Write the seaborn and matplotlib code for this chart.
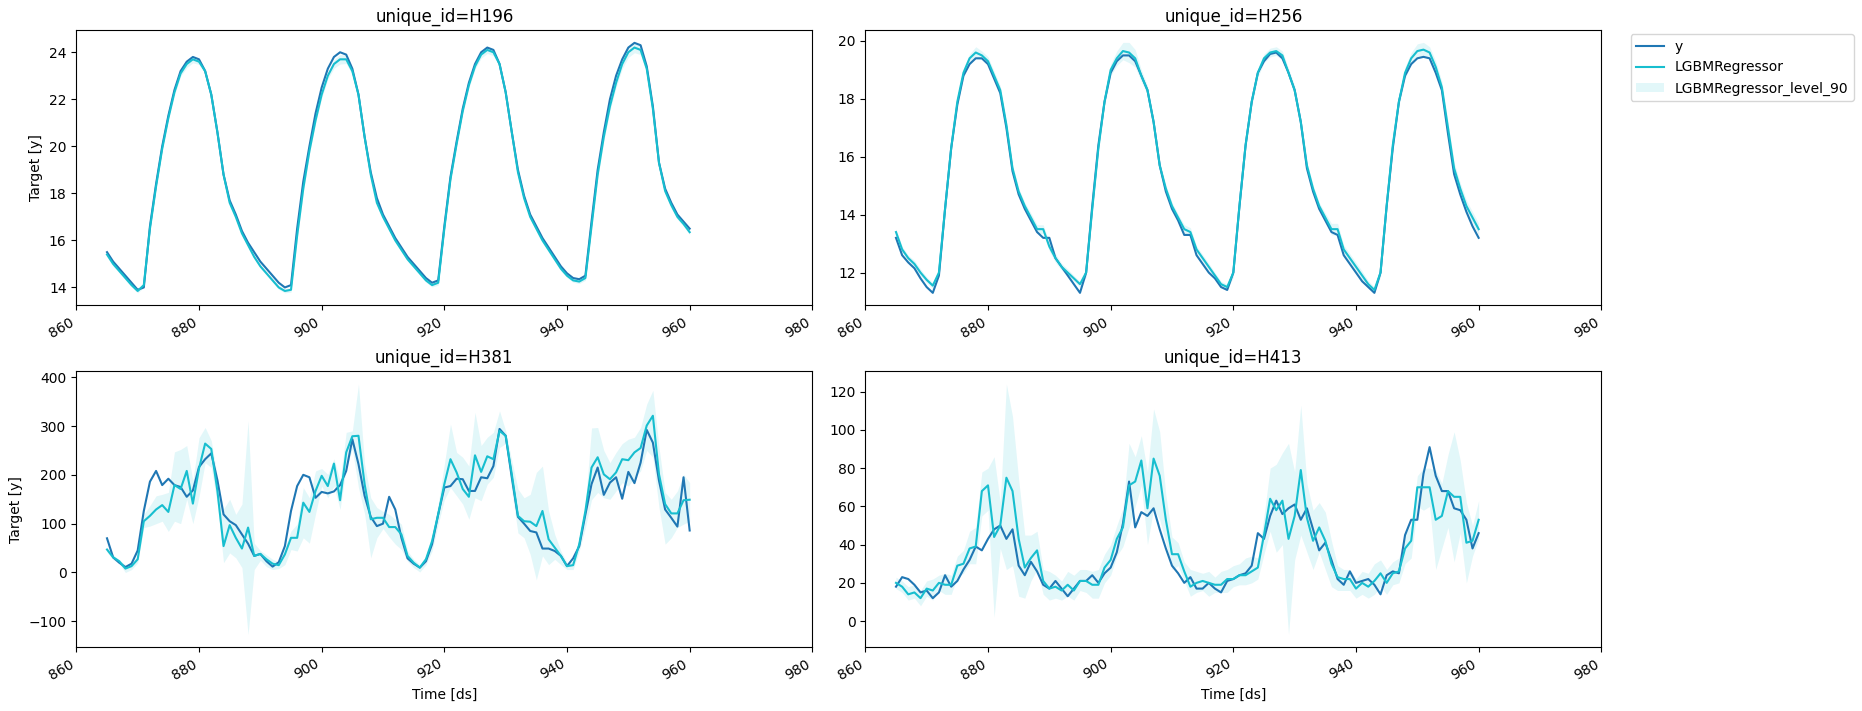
import pandas as pd
import matplotlib.pyplot as plt
import seaborn as sns
from matplotlib.patches import Patch

ds = list(range(865, 961))

# H196
h196_y = [15.5, 15.1, 14.8, 14.5, 14.2, 13.9,
          14.0, 16.6, 18.4, 20.0, 21.3, 22.4, 23.2, 23.6, 23.8, 23.7, 23.2, 22.2, 20.6, 18.8, 17.7, 17.1, 16.4, 15.9, 15.5, 15.1, 14.8, 14.5, 14.2, 14.0,
          14.1, 16.5, 18.5, 20.0, 21.4, 22.5, 23.3, 23.8, 24.0, 23.9, 23.3, 22.2, 20.4, 18.9, 17.8, 17.1, 16.6, 16.1, 15.7, 15.3, 15.0, 14.7, 14.4, 14.2,
          14.3, 16.6, 18.7, 20.2, 21.6, 22.7, 23.5, 24.0, 24.2, 24.1, 23.5, 22.3, 20.6, 19.0, 17.9, 17.1, 16.6, 16.1, 15.7, 15.3, 14.9, 14.6, 14.4, 14.35,
          14.5, 16.8, 19.0, 20.6, 22.0, 23.0, 23.7, 24.2, 24.4, 24.3, 23.4, 21.7, 19.3, 18.2, 17.6, 17.1, 16.8, 16.5]
h196_pred = [15.4, 15.0, 14.7, 14.4, 14.1, 13.85,
             14.1, 16.5, 18.3, 19.9, 21.2, 22.3, 23.1, 23.5, 23.7, 23.6, 23.2, 22.2, 20.6, 18.8, 17.6, 17.0, 16.3, 15.8, 15.3, 14.9, 14.6, 14.3, 14.0, 13.85,
             13.9, 16.2, 18.2, 19.8, 21.1, 22.2, 23.0, 23.5, 23.7, 23.7, 23.2, 22.2, 20.4, 18.8, 17.6, 17.0, 16.5, 16.0, 15.6, 15.2, 14.9, 14.6, 14.3, 14.1,
             14.2, 16.5, 18.6, 20.1, 21.5, 22.6, 23.4, 23.9, 24.1, 24.0, 23.5, 22.3, 20.6, 18.9, 17.8, 17.0, 16.5, 16.0, 15.6, 15.2, 14.8, 14.5, 14.3, 14.25,
             14.4, 16.6, 18.8, 20.4, 21.7, 22.7, 23.5, 24.0, 24.2, 24.1, 23.3, 21.6, 19.3, 18.1, 17.5, 17.0, 16.7, 16.35]
h196_width = [0.10, 0.10, 0.08, 0.08, 0.08, 0.08,
              0.10, 0.12, 0.12, 0.10, 0.10, 0.12, 0.12, 0.15, 0.15, 0.12, 0.12, 0.10, 0.10, 0.12, 0.10, 0.10, 0.10, 0.08, 0.08, 0.08, 0.08, 0.08, 0.08, 0.08,
              0.10, 0.15, 0.15, 0.12, 0.12, 0.15, 0.15, 0.18, 0.20, 0.18, 0.15, 0.12, 0.12, 0.12, 0.10, 0.10, 0.10, 0.10, 0.08, 0.08, 0.08, 0.08, 0.08, 0.08,
              0.10, 0.12, 0.12, 0.12, 0.12, 0.12, 0.12, 0.15, 0.15, 0.15, 0.12, 0.12, 0.12, 0.12, 0.10, 0.10, 0.10, 0.10, 0.10, 0.10, 0.10, 0.08, 0.08, 0.08,
              0.10, 0.15, 0.18, 0.18, 0.18, 0.20, 0.20, 0.22, 0.22, 0.20, 0.18, 0.15, 0.15, 0.12, 0.12, 0.10, 0.10, 0.10]

# H256
h256_y = [13.2, 12.6, 12.35, 12.15, 11.8, 11.5,
          11.3, 11.9, 14.2, 16.3, 17.8, 18.8, 19.2, 19.4, 19.4, 19.2, 18.7, 18.2, 17.0, 15.5, 14.7, 14.2, 13.8, 13.4, 13.2, 13.2, 12.5, 12.2, 11.9, 11.6,
          11.3, 12.0, 14.3, 16.4, 17.9, 18.9, 19.3, 19.5, 19.5, 19.3, 18.8, 18.3, 17.2, 15.7, 14.8, 14.2, 13.8, 13.3, 13.3, 12.6, 12.3, 12.0, 11.8, 11.5,
          11.4, 12.0, 14.3, 16.4, 17.9, 18.9, 19.3, 19.55, 19.6, 19.4, 18.9, 18.3, 17.2, 15.6, 14.8, 14.2, 13.8, 13.4, 13.3, 12.6, 12.3, 12.0, 11.7, 11.5,
          11.3, 12.0, 14.3, 16.3, 17.9, 18.8, 19.2, 19.4, 19.45, 19.4, 18.9, 18.3, 16.8, 15.4, 14.7, 14.1, 13.6, 13.2]
h256_pred = [13.4, 12.8, 12.5, 12.3, 12.0, 11.75,
             11.55, 12.0, 14.2, 16.3, 17.9, 18.9, 19.4, 19.6, 19.5, 19.3, 18.8, 18.3, 17.1, 15.6, 14.8, 14.3, 13.9, 13.5, 13.5, 12.9, 12.5, 12.2, 12.0, 11.8,
             11.6, 12.0, 14.2, 16.3, 17.9, 19.0, 19.4, 19.65, 19.6, 19.4, 18.8, 18.3, 17.2, 15.7, 14.9, 14.3, 13.9, 13.5, 13.4, 12.8, 12.5, 12.2, 11.9, 11.6,
             11.5, 12.0, 14.3, 16.4, 17.9, 18.9, 19.4, 19.6, 19.65, 19.5, 18.9, 18.3, 17.2, 15.7, 14.9, 14.3, 13.9, 13.5, 13.5, 12.8, 12.5, 12.2, 11.9, 11.6,
             11.4, 12.0, 14.3, 16.4, 17.9, 18.9, 19.4, 19.65, 19.7, 19.6, 19.1, 18.4, 17.0, 15.6, 14.9, 14.3, 13.9, 13.5]
h256_width = [0.10, 0.10, 0.10, 0.12, 0.12, 0.10,
              0.10, 0.15, 0.15, 0.15, 0.12, 0.15, 0.15, 0.20, 0.15, 0.15, 0.15, 0.15, 0.15, 0.12, 0.12, 0.12, 0.15, 0.15, 0.15, 0.15, 0.15, 0.12, 0.12, 0.10,
              0.10, 0.15, 0.15, 0.15, 0.15, 0.20, 0.25, 0.30, 0.35, 0.30, 0.20, 0.15, 0.15, 0.12, 0.12, 0.12, 0.12, 0.15, 0.15, 0.12, 0.12, 0.12, 0.10, 0.10,
              0.10, 0.15, 0.15, 0.15, 0.15, 0.15, 0.15, 0.15, 0.15, 0.15, 0.15, 0.15, 0.15, 0.12, 0.12, 0.12, 0.15, 0.20, 0.20, 0.15, 0.15, 0.15, 0.15, 0.12,
              0.10, 0.15, 0.15, 0.15, 0.15, 0.20, 0.20, 0.25, 0.25, 0.20, 0.20, 0.20, 0.20, 0.20, 0.20, 0.20, 0.20, 0.20]

# H381
h381_y = [70, 31, 20, 11, 18, 45,
          126, 186, 208, 179, 192, 179, 175, 155, 168, 216, 232, 244, 189, 119, 105, 97, 78, 59, 34, 38, 23, 12, 21, 54,
          126, 177, 200, 195, 153, 165, 162, 166, 179, 208, 273, 222, 157, 114, 95, 100, 155, 129, 71, 29, 18, 10, 23, 58,
          119, 174, 177, 192, 191, 167, 167, 195, 193, 218, 294, 280, 195, 114, 100, 85, 82, 49, 49, 44, 34, 13, 29, 54,
          119, 181, 215, 159, 184, 195, 151, 206, 183, 225, 292, 266, 188, 129, 112, 94, 195, 86]
h381_pred = [47, 31, 23, 8, 13, 27,
             105, 116, 129, 138, 124, 179, 171, 208, 141, 213, 264, 253, 167, 54, 97, 71, 49, 92, 34, 38, 27, 18, 15, 37,
             71, 71, 143, 124, 167, 198, 177, 223, 148, 246, 279, 280, 181, 109, 112, 112, 93, 93, 78, 34, 20, 10, 27, 64,
             119, 181, 232, 205, 171, 155, 240, 206, 238, 232, 290, 280, 201, 116, 105, 104, 95, 126, 68, 51, 34, 13, 15, 58,
             126, 215, 236, 201, 191, 205, 232, 230, 246, 255, 301, 321, 201, 140, 121, 121, 148, 149]
h381_hi = [51, 36, 26, 16, 20, 34,
           119, 137, 157, 160, 164, 247, 252, 260, 188, 276, 297, 270, 195, 130, 150, 119, 140, 311, 60, 45, 36, 27, 22, 51,
           85, 99, 174, 153, 208, 213, 201, 233, 188, 287, 290, 386, 222, 153, 133, 125, 119, 109, 99, 44, 27, 16, 34, 78,
           140, 222, 304, 246, 236, 218, 328, 260, 277, 287, 331, 290, 229, 171, 153, 160, 205, 218, 126, 78, 44, 20, 23, 64,
           142, 296, 297, 250, 225, 246, 264, 273, 277, 297, 345, 373, 256, 164, 150, 167, 201, 184]
h381_lo = [42, 26, 18, 0, 6, 20,
           92, 95, 100, 105, 84, 105, 100, 150, 100, 155, 225, 215, 140, 20, 40, 30, 10, -127, 6, 25, 12, 6, 8, 16,
           47, 44, 71, 60, 120, 177, 153, 177, 129, 215, 253, 174, 120, 30, 71, 90, 73, 58, 47, 23, 10, 1, 16, 44,
           99, 149, 174, 157, 140, 109, 153, 147, 181, 195, 256, 264, 167, 81, 71, 37, -15, 34, 16, 27, 16, 6, 6, 44,
           92, 149, 164, 153, 150, 167, 184, 177, 195, 208, 250, 236, 133, 58, 71, 92, 99, 105]

# H413
h413_y = [18, 23, 22, 19, 15, 16,
          12, 15, 24, 18, 21, 27, 32, 39, 37, 43, 48, 50, 43, 48, 29, 24, 31, 26, 19, 17, 21, 17, 13, 17,
          21, 21, 24, 20, 25, 28, 36, 51, 73, 49, 57, 55, 59, 48, 38, 29, 25, 20, 23, 17, 17, 20, 17, 15,
          21, 22, 24, 25, 29, 46, 43, 55, 63, 56, 59, 61, 53, 59, 48, 37, 41, 32, 22, 19, 26, 20, 21, 22,
          19, 14, 24, 26, 25, 45, 53, 53, 77, 91, 76, 68, 68, 59, 58, 53, 38, 46]
h413_pred = [20, 18, 14, 15, 12, 17,
             16, 20, 19, 19, 29, 30, 38, 39, 68, 71, 44, 50, 75, 68, 43, 28, 33, 37, 21, 17, 18, 16, 19, 16,
             21, 21, 19, 19, 28, 32, 43, 49, 71, 73, 84, 59, 85, 76, 53, 35, 35, 26, 18, 20, 21, 20, 19, 19,
             22, 22, 24, 24, 26, 28, 45, 64, 58, 63, 43, 55, 79, 54, 42, 49, 42, 30, 23, 22, 22, 17, 20, 18,
             21, 25, 20, 25, 26, 38, 42, 70, 70, 70, 53, 55, 68, 65, 65, 41, 42, 53]
h413_hi = [23, 21, 18, 19, 16, 21,
           22, 24, 25, 24, 34, 37, 47, 49, 78, 80, 86, 62, 124, 107, 74, 45, 45, 47, 27, 26, 24, 21, 26, 24,
           27, 27, 26, 27, 35, 40, 50, 59, 93, 86, 97, 78, 111, 99, 66, 44, 41, 31, 27, 26, 25, 26, 23, 26,
           27, 29, 30, 33, 34, 33, 55, 80, 82, 88, 93, 78, 113, 72, 58, 62, 57, 42, 29, 27, 27, 22, 26, 25,
           30, 32, 27, 31, 33, 46, 50, 76, 80, 80, 79, 72, 87, 99, 84, 62, 50, 63]
h413_lo = [17, 15, 11, 12, 8, 13,
           11, 16, 14, 14, 23, 25, 30, 30, 55, 58, 2, 38, 27, 29, 13, 12, 21, 27, 14, 11, 12, 11, 13, 11,
           16, 15, 12, 12, 20, 24, 34, 39, 49, 60, 71, 40, 59, 53, 41, 27, 29, 21, 13, 15, 16, 13, 15, 15,
           15, 18, 19, 19, 20, 22, 35, 47, 36, 40, -7, 32, 45, 36, 27, 36, 27, 18, 16, 16, 16, 12, 14, 12,
           14, 18, 14, 19, 20, 30, 33, 60, 58, 60, 27, 38, 49, 31, 46, 20, 34, 43]

# bandas de 90% para H196 y H256 (pred +- ancho)
h196_lo = [p - w for p, w in zip(h196_pred, h196_width)]
h196_hi = [p + w for p, w in zip(h196_pred, h196_width)]
h256_lo = [p - w for p, w in zip(h256_pred, h256_width)]
h256_hi = [p + w for p, w in zip(h256_pred, h256_width)]

series = [
    ('H196', h196_y, h196_pred, h196_lo, h196_hi),
    ('H256', h256_y, h256_pred, h256_lo, h256_hi),
    ('H381', h381_y, h381_pred, h381_lo, h381_hi),
    ('H413', h413_y, h413_pred, h413_lo, h413_hi),
]

c_y = '#1f77b4'
c_pred = '#17becf'

fig, axes = plt.subplots(2, 2, figsize=(18.62, 7.11), dpi=100)
fig.subplots_adjust(left=0.041, right=0.86, top=0.958, bottom=0.09, wspace=0.072, hspace=0.24)

for ax, (uid, y, pred, lo, hi) in zip(axes.flat, series):
    df = pd.DataFrame({'ds': ds, 'y': y, 'pred': pred, 'lo': lo, 'hi': hi})
    ax.fill_between(df['ds'], df['lo'], df['hi'], color=c_pred, alpha=0.12, linewidth=0)
    sns.lineplot(data=df, x='ds', y='y', ax=ax, color=c_y, linewidth=1.5)
    sns.lineplot(data=df, x='ds', y='pred', ax=ax, color=c_pred, linewidth=1.5)
    ax.set_title(f'unique_id={uid}', fontsize=12)
    ax.set_xlim(860, 980)
    ax.set_xticks(range(860, 981, 20))
    plt.setp(ax.get_xticklabels(), rotation=30, ha='right')
    ax.set_xlabel('')
    ax.set_ylabel('')

axes[0, 0].set_ylabel('Target [y]')
axes[1, 0].set_ylabel('Target [y]')
axes[1, 0].set_xlabel('Time [ds]')
axes[1, 1].set_xlabel('Time [ds]')

handles = [
    plt.Line2D([], [], color=c_y, linewidth=1.5),
    plt.Line2D([], [], color=c_pred, linewidth=1.5),
    Patch(facecolor=c_pred, alpha=0.12, edgecolor='none'),
]
labels = ['y', 'LGBMRegressor', 'LGBMRegressor_level_90']
fig.legend(handles, labels, loc='upper left', bbox_to_anchor=(0.872, 0.962), fontsize=10)

plt.savefig('out.png', dpi=100)
